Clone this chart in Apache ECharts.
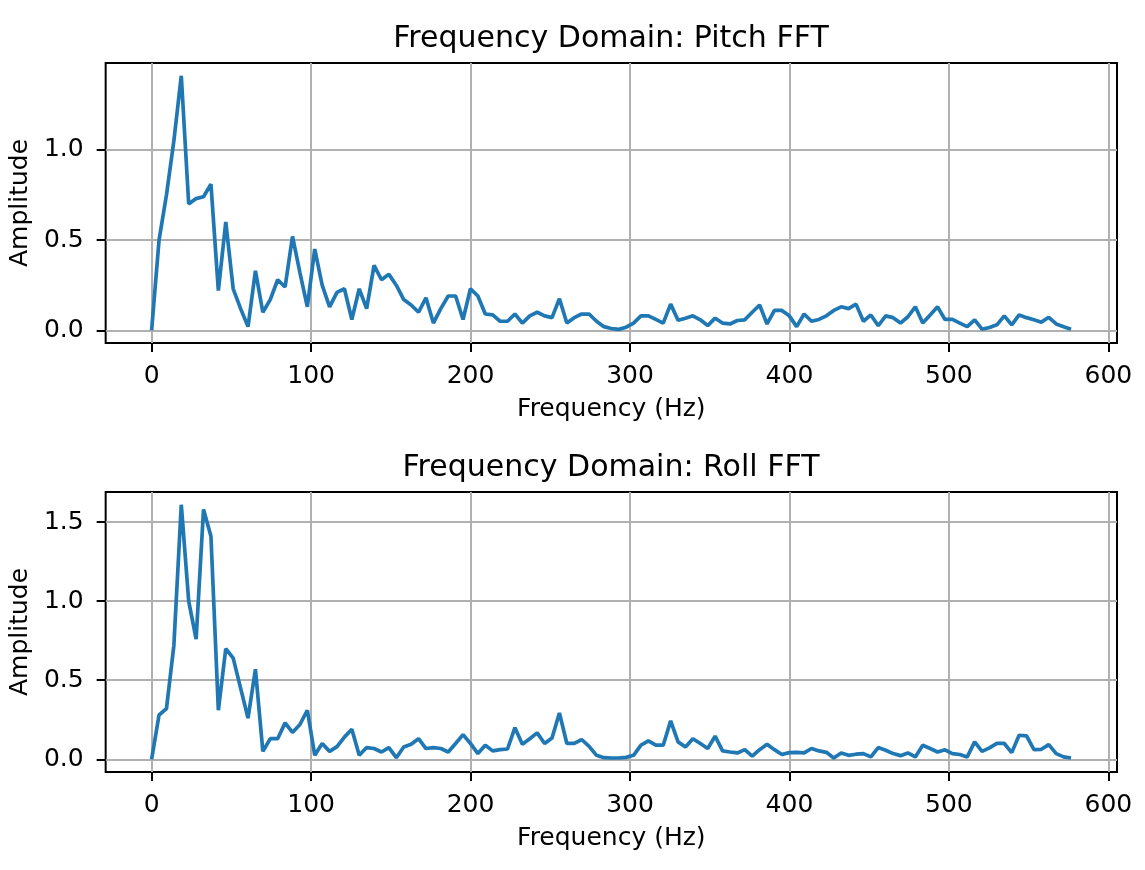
<!DOCTYPE html>
<html><head><meta charset="utf-8">
<script src="https://cdn.jsdelivr.net/npm/echarts@6/dist/echarts.min.js"></script>
<style>html,body{margin:0;padding:0;background:#fff}#c{width:1145px;height:870px}</style>
</head><body><div id="c"></div>
<script>
const freqHz = [0,4.65,9.3,13.95,18.6,23.25,27.9,32.55,37.2,41.85,46.5,51.15,55.8,60.45,65.1,69.75,74.4,79.05,83.7,88.35,
93,97.65,102.3,106.95,111.6,116.25,120.9,125.55,130.2,134.85,139.5,144.15,148.8,153.45,158.1,162.75,167.4,172.05,176.7,181.35,
186,190.65,195.3,199.95,204.6,209.25,213.9,218.55,223.2,227.85,232.5,237.15,241.8,246.45,251.1,255.75,260.4,265.05,269.7,274.35,
279,283.65,288.3,292.95,297.6,302.25,306.9,311.55,316.2,320.85,325.5,330.15,334.8,339.45,344.1,348.75,353.4,358.05,362.7,367.35,
372,376.65,381.3,385.95,390.6,395.25,399.9,404.55,409.2,413.85,418.5,423.15,427.8,432.45,437.1,441.75,446.4,451.05,455.7,460.35,
465,469.65,474.3,478.95,483.6,488.25,492.9,497.55,502.2,506.85,511.5,516.15,520.8,525.45,530.1,534.75,539.4,544.05,548.7,553.35,
558,562.65,567.3,571.95,576.6];
const pitchAmp = [0,0.50,0.75,1.05,1.411,0.70,0.73,0.74,0.81,0.22,0.60,0.23,0.12,0.02,0.33,0.10,0.17,0.28,0.24,0.52,
0.32,0.13,0.45,0.25,0.13,0.21,0.23,0.06,0.23,0.12,0.36,0.28,0.31,0.25,0.17,0.14,0.10,0.18,0.04,0.12,
0.19,0.19,0.06,0.23,0.19,0.09,0.085,0.05,0.05,0.09,0.04,0.08,0.10,0.08,0.07,0.175,0.04,0.07,0.09,0.09,
0.05,0.02,0.01,0.005,0.017,0.04,0.08,0.08,0.06,0.04,0.145,0.055,0.067,0.08,0.058,0.026,0.067,0.04,0.035,0.054,
0.058,0.10,0.14,0.035,0.11,0.11,0.08,0.02,0.09,0.05,0.06,0.08,0.11,0.13,0.12,0.145,0.05,0.085,0.025,0.08,
0.07,0.04,0.075,0.13,0.04,0.085,0.13,0.06,0.06,0.04,0.02,0.058,0.006,0.015,0.03,0.08,0.03,0.085,0.07,0.058,
0.045,0.072,0.035,0.02,0.006];
const rollAmp = [0,0.28,0.32,0.72,1.61,1.00,0.76,1.58,1.41,0.31,0.70,0.64,0.45,0.26,0.57,0.05,0.13,0.13,0.23,0.17,
0.22,0.31,0.025,0.10,0.05,0.08,0.14,0.19,0.025,0.074,0.068,0.046,0.074,0.01,0.078,0.095,0.13,0.068,0.074,0.068,
0.046,0.10,0.156,0.10,0.036,0.089,0.053,0.061,0.065,0.20,0.095,0.13,0.167,0.10,0.135,0.293,0.10,0.10,0.125,0.082,
0.025,0.01,0.008,0.008,0.012,0.025,0.089,0.116,0.089,0.089,0.243,0.11,0.078,0.13,0.10,0.068,0.146,0.053,0.046,0.04,
0.061,0.02,0.061,0.095,0.061,0.03,0.042,0.044,0.04,0.068,0.053,0.044,0.008,0.04,0.025,0.032,0.036,0.015,0.074,0.057,
0.036,0.023,0.04,0.015,0.089,0.068,0.046,0.06,0.036,0.03,0.015,0.11,0.05,0.072,0.10,0.10,0.042,0.152,0.148,0.061,
0.063,0.093,0.036,0.015,0.008];
const xTicks = [0,100,200,300,400,500,600];
const pitchYTicks = [0,0.5,1.0];
const rollYTicks = [0,0.5,1.0,1.5];
const titles = ['Frequency Domain: Pitch FFT','Frequency Domain: Roll FFT'];
const xLabel = 'Frequency (Hz)';
const yLabel = 'Amplitude';

const F = 'DejaVu Sans';
const pair = (xs, ys) => xs.map((x, i) => [x, ys[i]]);

function xAx(gi) {
  return {
    type: 'value', gridIndex: gi, min: -28.83, max: 605.43, position: 'bottom',
    name: xLabel, nameLocation: 'middle', nameGap: 54,
    nameTextStyle: {fontSize: 25, color: '#000', fontFamily: F},
    axisLine: {show: false, onZero: false},
    axisTick: {show: true, length: 9, lineStyle: {color: '#000', width: 2}, customValues: xTicks},
    axisLabel: {customValues: xTicks, fontSize: 25, color: '#000', margin: 21, fontFamily: F},
    splitLine: {show: true, lineStyle: {color: '#b0b0b0', width: 2}}
  };
}
function yAx(gi, mn, mx, ticks) {
  return {
    type: 'value', gridIndex: gi, min: mn, max: mx, position: 'left',
    name: yLabel, nameLocation: 'middle', nameGap: 70, nameRotate: 90,
    nameTextStyle: {fontSize: 25, color: '#000', fontFamily: F},
    axisLine: {show: false, onZero: false},
    axisTick: {show: true, length: 9, lineStyle: {color: '#000', width: 2}, customValues: ticks},
    axisLabel: {customValues: ticks, fontSize: 25, color: '#000', margin: 22, fontFamily: F,
      padding: [6, 0, 0, 0], formatter: v => Number(v).toFixed(1)},
    splitLine: {show: true, lineStyle: {color: '#b0b0b0', width: 2}}
  };
}
function ser(gi, ys) {
  return {
    type: 'line', xAxisIndex: gi, yAxisIndex: gi, data: pair(freqHz, ys),
    showSymbol: false, symbol: 'none', lineStyle: {color: '#1f77b4', width: 3.7},
    itemStyle: {color: '#1f77b4'}, z: 3
  };
}
const chart = echarts.init(document.getElementById('c'), null, {renderer: 'canvas'});
chart.setOption({
  animation: false,
  backgroundColor: '#fff',
  grid: [
    {left: 105, top: 63, width: 1012, height: 280, show: true, borderColor: '#000', borderWidth: 2, backgroundColor: 'rgba(0,0,0,0)'},
    {left: 105, top: 492, width: 1012, height: 280, show: true, borderColor: '#000', borderWidth: 2, backgroundColor: 'rgba(0,0,0,0)'}
  ],
  xAxis: [xAx(0), xAx(1)],
  yAxis: [yAx(0, -0.0706, 1.4817, pitchYTicks), yAx(1, -0.0805, 1.6905, rollYTicks)],
  series: [ser(0, pitchAmp), ser(1, rollAmp)],
  graphic: [
    {type: 'text', x: 611, y: 39, style: {text: titles[0], fontSize: 30, fontFamily: F, fill: '#000', align: 'center', verticalAlign: 'middle'}},
    {type: 'text', x: 611, y: 468, style: {text: titles[1], fontSize: 30, fontFamily: F, fill: '#000', align: 'center', verticalAlign: 'middle'}}
  ]
});
</script></body></html>
